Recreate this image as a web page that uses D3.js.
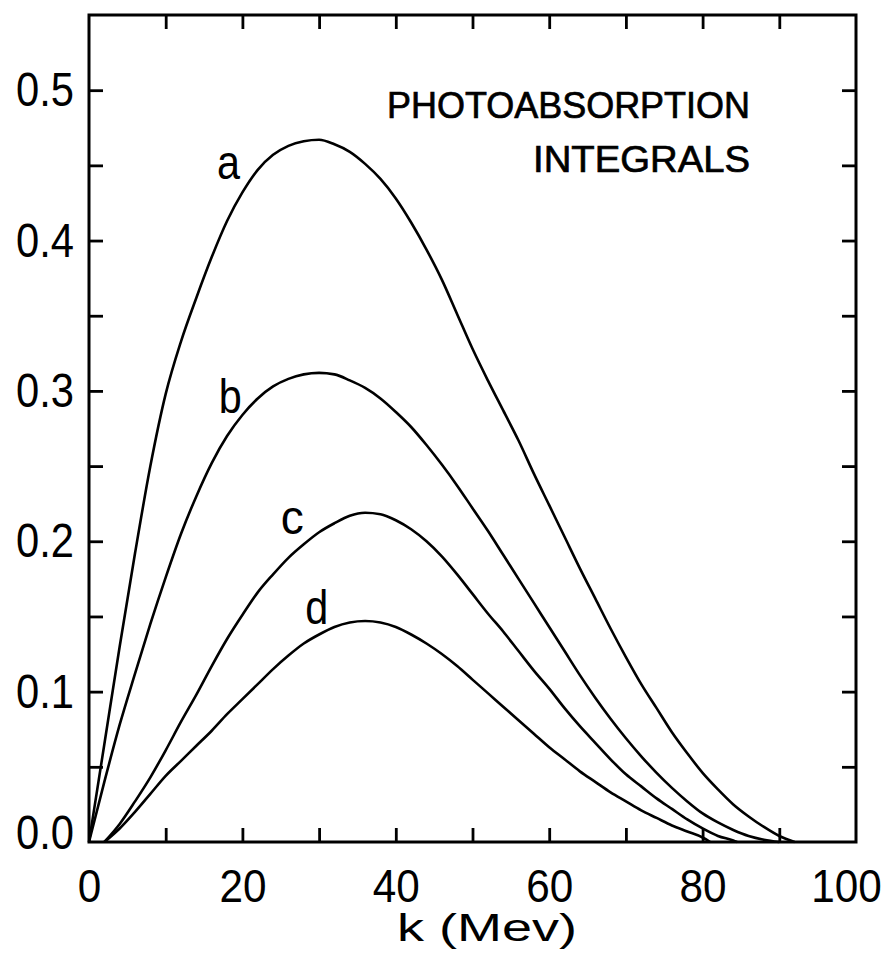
<!DOCTYPE html>
<html>
<head>
<meta charset="utf-8">
<script src="https://cdn.jsdelivr.net/npm/d3@7"></script>
<style>
    body { margin: 0; background: #fff; }
    text { font-family: "Liberation Sans", Arial, sans-serif; fill: #000; }
</style>
</head>
<body>
<div id="chart"></div>
<script>
// photon energy k (MeV) and integral values
const kA = [0, 2, 4, 6, 8, 10, 12, 14, 16, 18, 20, 22, 24, 26, 28, 30, 32, 34, 36, 38, 40, 42, 44, 46, 48, 50, 52, 54, 56, 58, 60, 62, 64, 66, 68, 70, 72, 74, 76, 78, 80, 82, 84, 86, 88, 90, 92];
const valA = [0, 0.065, 0.13, 0.192, 0.25, 0.298, 0.333, 0.362, 0.389, 0.413, 0.432, 0.447, 0.457, 0.463, 0.466, 0.467, 0.464, 0.459, 0.451, 0.441, 0.428, 0.412, 0.394, 0.374, 0.351, 0.328, 0.307, 0.287, 0.267, 0.245, 0.224, 0.203, 0.182, 0.162, 0.142, 0.123, 0.105, 0.089, 0.073, 0.059, 0.046, 0.035, 0.025, 0.017, 0.01, 0.004, 0];

const kB = [0, 2, 4, 6, 8, 10, 12, 14, 16, 18, 20, 22, 24, 26, 28, 30, 32, 34, 36, 38, 40, 42, 44, 46, 48, 50, 52, 54, 56, 58, 60, 62, 64, 66, 68, 70, 72, 74, 76, 78, 80, 82, 84, 86, 88, 90];
const valB = [0, 0.04, 0.078, 0.112, 0.145, 0.176, 0.205, 0.23, 0.252, 0.27, 0.284, 0.295, 0.303, 0.308, 0.311, 0.312, 0.311, 0.307, 0.302, 0.295, 0.286, 0.276, 0.264, 0.251, 0.237, 0.222, 0.207, 0.191, 0.175, 0.159, 0.143, 0.127, 0.111, 0.096, 0.082, 0.069, 0.057, 0.046, 0.036, 0.027, 0.019, 0.013, 0.008, 0.004, 0.0015, 0];

const kC = [2, 4, 6, 8, 10, 12, 14, 16, 18, 20, 22, 24, 26, 28, 30, 32, 34, 36, 38, 40, 42, 44, 46, 48, 50, 52, 54, 56, 58, 60, 62, 64, 66, 68, 70, 72, 74, 76, 78, 80, 82, 84, 84.5];
const valC = [0, 0.012, 0.027, 0.043, 0.061, 0.08, 0.098, 0.117, 0.135, 0.151, 0.166, 0.178, 0.189, 0.198, 0.206, 0.212, 0.217, 0.219, 0.218, 0.214, 0.208, 0.2, 0.19, 0.178, 0.165, 0.152, 0.14, 0.127, 0.114, 0.102, 0.089, 0.077, 0.066, 0.055, 0.045, 0.037, 0.029, 0.022, 0.015, 0.009, 0.004, 0.001, 0];

const kD = [2, 4, 6, 8, 10, 12, 14, 16, 18, 20, 22, 24, 26, 28, 30, 32, 34, 36, 38, 40, 42, 44, 46, 48, 50, 52, 54, 56, 58, 60, 62, 64, 66, 68, 70, 72, 74, 76, 78, 80, 81];
const valD = [0, 0.009, 0.02, 0.032, 0.044, 0.054, 0.064, 0.074, 0.085, 0.095, 0.105, 0.115, 0.124, 0.132, 0.138, 0.143, 0.146, 0.147, 0.146, 0.143, 0.138, 0.132, 0.125, 0.117, 0.108, 0.099, 0.09, 0.081, 0.072, 0.063, 0.055, 0.047, 0.04, 0.033, 0.027, 0.021, 0.016, 0.011, 0.007, 0.003, 0];

const curveNames = ["a", "b", "c", "d"];
const xTickLabels = [0, 20, 40, 60, 80, 100];
const yTickLabels = [0, 0.1, 0.2, 0.3, 0.4, 0.5];

const width = 890, height = 978;

const svg = d3.select("#chart")
    .append("svg")
    .attr("width", width)
    .attr("height", height);

svg.append("rect").attr("width", width).attr("height", height).attr("fill", "#fff");

const x = d3.scaleLinear().domain([0, 100]).range([89, 856]);
const y = d3.scaleLinear().domain([0, 0.55]).range([842, 15]);

// inward ticks on all four sides
const xTicks = d3.range(10, 100, 10);
const yTicks = d3.range(0.05, 0.551, 0.05).filter(v => v < 0.54);

svg.append("g")
    .attr("transform", `translate(0,${y(0)})`)
    .call(d3.axisBottom(x).tickValues(xTicks).tickSize(-14).tickFormat(""));
svg.append("g")
    .attr("transform", `translate(0,${y(0.55)})`)
    .call(d3.axisTop(x).tickValues(xTicks).tickSize(-14).tickFormat(""));
svg.append("g")
    .attr("transform", `translate(${x(0)},0)`)
    .call(d3.axisLeft(y).tickValues(yTicks).tickSize(-14).tickFormat(""));
svg.append("g")
    .attr("transform", `translate(${x(100)},0)`)
    .call(d3.axisRight(y).tickValues(yTicks).tickSize(-14).tickFormat(""));

svg.selectAll(".domain").remove();
svg.selectAll(".tick line").attr("stroke", "#000").attr("stroke-width", 2.8);

// tick labels, squeezed to the narrow lettering of the original
const labelWidth = s => s.replace(/\./g, "").length * 23.5 + (s.includes(".") ? 11 : 0);

const xLab = svg.append("g")
    .attr("transform", `translate(0,${y(0)})`)
    .call(d3.axisBottom(x).tickValues(xTickLabels).tickSize(0).tickPadding(27).tickFormat(d3.format("d")));
const yLab = svg.append("g")
    .attr("transform", `translate(${x(0)},0)`)
    .call(d3.axisLeft(y).tickValues(yTickLabels).tickSize(0).tickPadding(15).tickFormat(d3.format(".1f")));
[xLab, yLab].forEach(g => {
    g.select(".domain").remove();
    g.selectAll("text")
        .attr("fill", "#000")
        .attr("lengthAdjust", "spacingAndGlyphs")
        .attr("textLength", function () { return labelWidth(this.textContent); });
});
xLab.selectAll("text").style("font-size", "47px");
yLab.selectAll("text").style("font-size", "49px");
xLab.selectAll(".tick").filter(d => d === 100).select("text").attr("dx", -10);
yLab.selectAll(".tick").filter(d => d === 0).select("text").attr("dy", "0.14em");

// frame
svg.append("rect")
    .attr("x", x(0)).attr("y", y(0.55))
    .attr("width", x(100) - x(0)).attr("height", y(0) - y(0.55))
    .attr("fill", "none").attr("stroke", "#000").attr("stroke-width", 3);

// curves
const series = [
    { name: "a", k: kA, v: valA },
    { name: "b", k: kB, v: valB },
    { name: "c", k: kC, v: valC },
    { name: "d", k: kD, v: valD }
];

const line = d3.line()
    .x(d => x(d[0]))
    .y(d => y(d[1]))
    .curve(d3.curveMonotoneX);

svg.selectAll("path.curve")
    .data(series)
    .enter().append("path")
    .attr("class", "curve")
    .attr("d", s => line(s.k.map((k, i) => [k, s.v[i]])))
    .style("fill", "none")
    .style("stroke", "#000")
    .style("stroke-width", 2.6)
    .style("stroke-linejoin", "round");

// curve letters, placed by data coordinates
const letterPos = [[18.2, 0.441], [18.4, 0.285], [26.5, 0.205], [29.7, 0.145]];
svg.selectAll("text.letter")
    .data(curveNames)
    .enter().append("text")
    .attr("class", "letter")
    .attr("x", (d, i) => x(letterPos[i][0]))
    .attr("y", (d, i) => y(letterPos[i][1]))
    .attr("text-anchor", "middle")
    .style("font-size", "48px")
    .attr("lengthAdjust", "spacingAndGlyphs")
    .attr("textLength", 23)
    .text(d => d);

// title inside the plot
svg.append("text")
    .attr("x", 750).attr("y", 118)
    .attr("text-anchor", "end")
    .style("font-size", "36px")
    .style("stroke", "#000").style("stroke-width", 0.7)
    .attr("lengthAdjust", "spacingAndGlyphs")
    .attr("textLength", 363)
    .text("PHOTOABSORPTION");
svg.append("text")
    .attr("x", 750).attr("y", 172)
    .attr("text-anchor", "end")
    .style("font-size", "36px")
    .style("stroke", "#000").style("stroke-width", 0.7)
    .attr("lengthAdjust", "spacingAndGlyphs")
    .attr("textLength", 217)
    .text("INTEGRALS");

// axis title
svg.append("text")
    .attr("x", 487).attr("y", 941)
    .attr("text-anchor", "middle")
    .style("font-size", "38px")
    .attr("lengthAdjust", "spacingAndGlyphs")
    .attr("textLength", 180)
    .text("k (Mev)");
</script>
</body>
</html>
